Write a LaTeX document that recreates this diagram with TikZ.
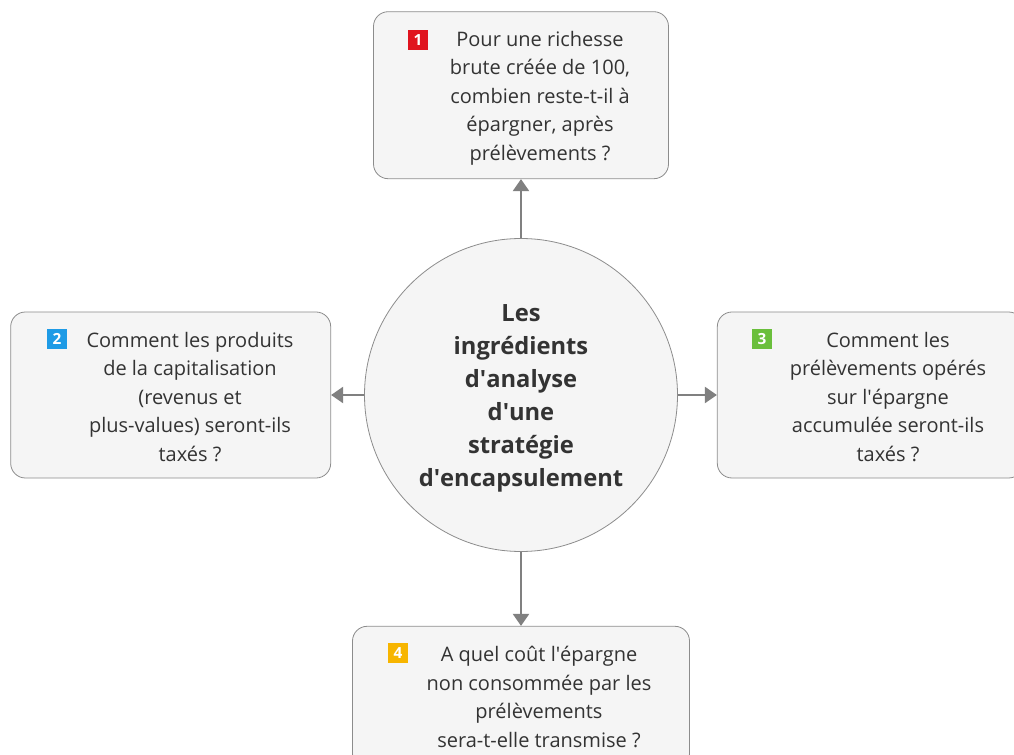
\documentclass[tikz,border=0pt]{standalone}
\usepackage{fontspec}
\setmainfont{Open Sans}
\usepackage{tikz}
\usetikzlibrary{positioning,arrows.meta}

\definecolor{boxfill}{HTML}{F5F5F5}
\definecolor{boxline}{HTML}{8C8C8C}
\definecolor{linkgray}{HTML}{808080}
\definecolor{textgray}{HTML}{333333}
\definecolor{badgered}{HTML}{E0141E}
\definecolor{badgeblue}{HTML}{1E9BE6}
\definecolor{badgegreen}{HTML}{6ABF3C}
\definecolor{badgeyellow}{HTML}{F7B500}

\newcommand{\ap}{\textquotesingle}

\tikzset{
    core/.style={
           circle,
           draw=boxline, fill=boxfill, line width=0.6pt,
           minimum size=234.75pt,
           inner sep=0pt,
           },
    question/.style={
           rectangle,
           rounded corners=11pt,
           draw=boxline, fill=boxfill, line width=0.6pt,
           inner sep=0pt,
           },
    qtext/.style={
           align=center,
           text=textgray,
           font=\fontsize{15}{21.4}\selectfont,
           },
    badge/.style={
           rectangle,
           minimum size=15.5pt,
           inner sep=0pt,
           text=white,
           font=\fontsize{11.5}{11.5}\selectfont\bfseries,
           },
    link/.style={
           draw=linkgray, line width=1.7pt,
           -{Triangle[width=12pt,length=9pt]},
           },
}

\begin{document}
\begin{tikzpicture}[x=0.75pt,y=-0.75pt]
    \useasboundingbox (0,0) rectangle (1014,755);

    % central topic
    \node[core] (center) at (521,395) {};
    \node[align=center, text=textgray,
    font=\fontsize{17.8}{24.75}\selectfont\bfseries] (title) at (521,398)
    {Les\\ingrédients\\d\ap analyse\\d\ap une\\stratégie\\d\ap encapsulement};

    % the four questions, placed round the centre
    \node[question, minimum width=221.25pt, minimum height=125.25pt,
    above=44.25pt of center] (q1) {};
    \node[question, minimum width=240pt, minimum height=124.5pt,
    left=24.75pt of center] (q2) {};
    \node[question, minimum width=229.5pt, minimum height=124.5pt,
    right=29.25pt of center] (q3) {};
    \node[question, minimum width=252.75pt, minimum height=106.5pt,
    below=55.5pt of center] (q4) {};

    % texts of the questions
    \node[qtext] (t1) at (540,98)
    {Pour une richesse\\brute créée de 100,\\combien reste-t-il à\\épargner, après\\prélèvements ?};
    \node[qtext] (t2) at (190,397)
    {Comment les produits\\de la capitalisation\\(revenus et\\plus-values) seront-ils\\taxés ?};
    \node[qtext] (t3) at (888,397)
    {Comment les\\prélèvements opérés\\sur l\ap épargne\\accumulée seront-ils\\taxés ?};
    \node[qtext] (t4) at (539,697)
    {A quel coût l\ap épargne\\non consommée par les\\prélèvements\\sera-t-elle transmise ?};

    % numbered badges
    \node[badge, fill=badgered] (b1) at (418,40) {1};
    \node[badge, fill=badgeblue] (b2) at (57,339) {2};
    \node[badge, fill=badgegreen] (b3) at (762,339) {3};
    \node[badge, fill=badgeyellow] (b4) at (398,653) {4};

    % connectors from the centre
    \draw[link] (center.north) -- (q1.south);
    \draw[link] (center.west) -- (q2.east);
    \draw[link] (center.east) -- (q3.west);
    \draw[link] (center.south) -- (q4.north);
\end{tikzpicture}
\end{document}
